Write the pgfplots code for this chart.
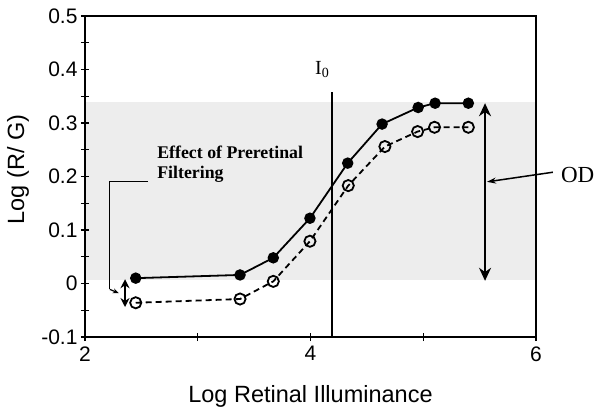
\documentclass[border=0pt]{standalone}
\usepackage{pgfplots}
\pgfplotsset{compat=1.18}
\usetikzlibrary{arrows.meta}
\usepackage{fontspec}
\setmainfont{Liberation Sans}
\newfontfamily\serif{Liberation Serif}
\begin{document}
\begin{tikzpicture}
\begin{axis}[
  at={(0,0)}, anchor=south west,
  scale only axis, width=451pt, height=321pt,
  xmin=2, xmax=6, ymin=-0.1, ymax=0.5,
  xtick={2,3,4,5,6}, xticklabels={2,,4,,6},
  ytick={-0.1,0,0.1,0.2,0.3,0.4,0.5},
  minor ytick={-0.05,0.05,0.15,0.25,0.35,0.45},
  tick pos=left, tick align=center,
  major tick length=8pt, minor tick length=8pt,
  every tick/.style={black, line width=1.2pt},
  axis line style={line width=1.2pt},
  /pgf/number format/assume math mode=true,
  ticklabel style={font=\fontsize{21}{25}\selectfont},
  xticklabel style={yshift=-2pt},
  xlabel={Log Retinal Illuminance},
  ylabel={Log (R/ G)},
  xlabel style={font=\fontsize{23.5}{27}\selectfont, at={([yshift=-65pt]axis description cs:0.5,0)}, anchor=base},
  ylabel style={font=\fontsize{23.5}{27}\selectfont, at={([xshift=-67pt,yshift=7pt]axis description cs:0,0.5)}, anchor=center},
  clip=false,
  axis on top,
]
\addplot[fill=black!7, draw=none] coordinates {(2,0.007) (6,0.007) (6,0.339) (2,0.339)} -- cycle;
\addplot[line width=1.8pt, black, mark=*, mark size=4.8pt, mark options={solid}] coordinates {
(2.45,0.01) (3.375,0.016) (3.67,0.048) (3.995,0.122) (4.33,0.225) (4.635,0.298) (4.955,0.329) (5.105,0.337) (5.40,0.337)};
\addplot[line width=1.8pt, black, dash pattern=on 6pt off 4pt, mark=o, mark size=5.6pt, mark options={solid, line width=1.8pt, fill=none}] coordinates {
(2.45,-0.036) (3.375,-0.029) (3.67,0.004) (3.995,0.079) (4.335,0.183) (4.66,0.256) (4.95,0.284) (5.10,0.292) (5.40,0.292)};
\draw[line width=1.6pt] (axis cs:4.19,-0.1) -- (axis cs:4.19,0.358);
\node[anchor=base west, inner sep=0pt, font=\serif\fontsize{20}{24}\selectfont] at (axis cs:4.04,0.39) {I\textsubscript{0}};
\draw[line width=2.2pt, {Stealth[length=13pt,width=12pt]}-{Stealth[length=13pt,width=12pt]}] (axis cs:5.548,0.005) -- (axis cs:5.548,0.337);
\draw[line width=1.5pt, -{Stealth[length=9pt,width=6pt]}] (axis cs:6.15,0.208) -- (axis cs:5.565,0.19);
\node[anchor=west, inner sep=0pt, font=\serif\fontsize{23}{27}\selectfont] at (axis cs:6.22,0.203) {OD};
\draw[line width=2.2pt, {Stealth[length=9pt,width=9pt]}-{Stealth[length=9pt,width=9pt]}] (axis cs:2.355,0.008) -- (axis cs:2.355,-0.044);
\draw[line width=1.2pt] (axis cs:2.56,0.191) -- (axis cs:2.22,0.191) -- (axis cs:2.22,-0.011);
\draw[line width=1.2pt, -{Stealth[length=6pt,width=5pt]}] (axis cs:2.22,-0.011) -- (axis cs:2.30,-0.018);
\node[anchor=base west, inner sep=0pt, align=left, font=\serif\bfseries\fontsize{17.8}{20}\selectfont] at (axis cs:2.64,0.197) {Effect of Preretinal\\Filtering};
\end{axis}
\path (-85pt,-76pt) rectangle (515pt,337pt);
\end{tikzpicture}
\end{document}
